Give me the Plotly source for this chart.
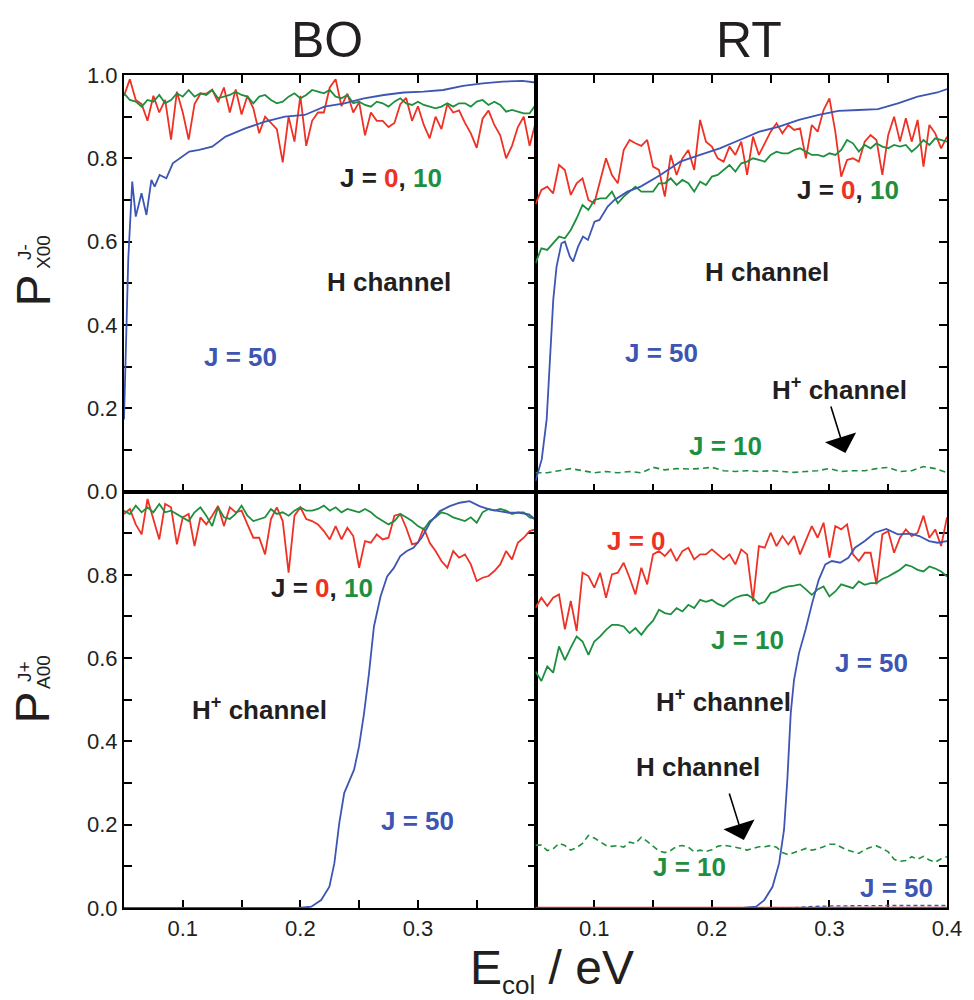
import plotly.graph_objects as go

# ---------------- data ----------------
E_GRID = [0.050, 0.055, 0.060, 0.065, 0.070, 0.075, 0.080, 0.085, 0.090, 0.095,
          0.100, 0.105, 0.110, 0.115, 0.120, 0.125, 0.130, 0.135, 0.140, 0.145,
          0.150, 0.155, 0.160, 0.165, 0.170, 0.175, 0.180, 0.185, 0.190, 0.195,
          0.200, 0.205, 0.210, 0.215, 0.220, 0.225, 0.230, 0.235, 0.240, 0.245,
          0.250, 0.255, 0.260, 0.265, 0.270, 0.275, 0.280, 0.285, 0.290, 0.295,
          0.300, 0.305, 0.310, 0.315, 0.320, 0.325, 0.330, 0.335, 0.340, 0.345,
          0.350, 0.355, 0.360, 0.365, 0.370, 0.375, 0.380, 0.385, 0.390, 0.395,
          0.400]
E_GRID10 = [0.05, 0.06, 0.07, 0.08, 0.09, 0.10, 0.11, 0.12, 0.13, 0.14, 0.15, 0.16,
            0.17, 0.18, 0.19, 0.20, 0.21, 0.22, 0.23, 0.24, 0.25, 0.26, 0.27, 0.28,
            0.29, 0.30, 0.31, 0.32, 0.33, 0.34, 0.35, 0.36, 0.37, 0.38, 0.39, 0.40]
E_ENDS = [0.05, 0.40]

# BO, H channel (top-left)
bo_h_j0 = [0.95, 0.99, 0.94, 0.93, 0.89, 0.95, 0.91, 0.94, 0.845, 0.96,
           0.91, 0.845, 0.93, 0.955, 0.955, 0.965, 0.935, 0.97, 0.91, 0.965,
           0.905, 0.95, 0.92, 0.86, 0.90, 0.885, 0.87, 0.79, 0.90, 0.84,
           0.95, 0.83, 0.89, 0.91, 0.91, 0.97, 0.99, 0.925, 0.955, 0.91,
           0.935, 0.855, 0.91, 0.89, 0.89, 0.875, 0.885, 0.93, 0.945, 0.89,
           0.925, 0.88, 0.848, 0.90, 0.87, 0.93, 0.91, 0.915, 0.885, 0.86,
           0.825, 0.895, 0.915, 0.88, 0.855, 0.80, 0.83, 0.875, 0.90, 0.83,
           0.885]
bo_h_j10 = [0.956, 0.94, 0.936, 0.924, 0.94, 0.936, 0.952, 0.932, 0.94, 0.956,
            0.948, 0.964, 0.948, 0.956, 0.952, 0.964, 0.944, 0.948, 0.952, 0.96,
            0.952, 0.948, 0.932, 0.948, 0.952, 0.94, 0.932, 0.936, 0.948, 0.956,
            0.944, 0.952, 0.964, 0.96, 0.956, 0.964, 0.948, 0.944, 0.952, 0.932,
            0.936, 0.928, 0.924, 0.936, 0.932, 0.924, 0.936, 0.944, 0.932, 0.928,
            0.936, 0.928, 0.924, 0.92, 0.924, 0.932, 0.924, 0.932, 0.932, 0.924,
            0.936, 0.94, 0.928, 0.936, 0.928, 0.912, 0.916, 0.912, 0.908, 0.908,
            0.928]
bo_h_j50_e = [0.05, 0.0536, 0.057, 0.060, 0.0649, 0.0691, 0.0733, 0.0761, 0.0803, 0.086,
              0.0915, 0.0971, 0.1055, 0.1139, 0.125, 0.1364, 0.1532, 0.170, 0.1869, 0.2037,
              0.2205, 0.2374, 0.2542, 0.271, 0.2879, 0.3047, 0.3215, 0.3383, 0.3552, 0.372,
              0.3888, 0.40]
bo_h_j50 = [0.173, 0.556, 0.744, 0.66, 0.716, 0.664, 0.748, 0.732, 0.76, 0.752,
            0.788, 0.80, 0.816, 0.82, 0.828, 0.852, 0.872, 0.888, 0.90, 0.904,
            0.924, 0.932, 0.944, 0.952, 0.958, 0.96, 0.964, 0.974, 0.98, 0.984,
            0.986, 0.982]

# RT, H channel (top-right)
rt_h_j0 = [0.69, 0.724, 0.732, 0.716, 0.784, 0.772, 0.712, 0.74, 0.752, 0.70,
           0.692, 0.744, 0.80, 0.76, 0.74, 0.82, 0.844, 0.836, 0.83, 0.844,
           0.78, 0.772, 0.708, 0.808, 0.76, 0.80, 0.82, 0.772, 0.892, 0.84,
           0.828, 0.80, 0.792, 0.828, 0.808, 0.84, 0.76, 0.852, 0.808, 0.836,
           0.864, 0.884, 0.86, 0.88, 0.868, 0.872, 0.80, 0.88, 0.864, 0.916,
           0.944, 0.864, 0.756, 0.796, 0.80, 0.792, 0.84, 0.856, 0.844, 0.76,
           0.856, 0.90, 0.84, 0.896, 0.84, 0.892, 0.78, 0.88, 0.86, 0.824,
           0.852]
rt_h_j10 = [0.548, 0.584, 0.58, 0.596, 0.612, 0.608, 0.628, 0.656, 0.688, 0.676,
            0.70, 0.704, 0.704, 0.72, 0.692, 0.708, 0.72, 0.732, 0.72, 0.72,
            0.72, 0.74, 0.74, 0.752, 0.736, 0.748, 0.74, 0.72, 0.744, 0.736,
            0.756, 0.76, 0.772, 0.784, 0.768, 0.788, 0.792, 0.80, 0.796, 0.792,
            0.808, 0.816, 0.812, 0.812, 0.82, 0.824, 0.816, 0.808, 0.808, 0.804,
            0.812, 0.808, 0.82, 0.844, 0.836, 0.816, 0.832, 0.824, 0.836, 0.828,
            0.824, 0.832, 0.828, 0.832, 0.816, 0.828, 0.844, 0.832, 0.848, 0.844,
            0.84]
rt_h_j50_e = [0.05, 0.0553, 0.0595, 0.0624, 0.0651, 0.0679, 0.0721, 0.075, 0.0792, 0.082,
              0.0862, 0.0904, 0.0946, 0.1002, 0.1044, 0.1114, 0.1171, 0.1282, 0.1394, 0.1562,
              0.1731, 0.1899, 0.2067, 0.2236, 0.2404, 0.2572, 0.274, 0.2909, 0.3077, 0.3245,
              0.3413, 0.3582, 0.375, 0.3918, 0.40]
rt_h_j50 = [0.025, 0.077, 0.173, 0.317, 0.46, 0.54, 0.596, 0.60, 0.564, 0.552,
            0.588, 0.612, 0.604, 0.648, 0.652, 0.684, 0.70, 0.72, 0.732, 0.76,
            0.792, 0.808, 0.824, 0.844, 0.864, 0.876, 0.892, 0.904, 0.914, 0.916,
            0.918, 0.932, 0.948, 0.958, 0.966]
rt_hplus_j10_in_h = [0.045, 0.045, 0.05, 0.055, 0.05, 0.045, 0.048, 0.045, 0.048, 0.045,
                     0.058, 0.052, 0.055, 0.054, 0.055, 0.058, 0.05, 0.048, 0.05, 0.048,
                     0.05, 0.048, 0.046, 0.048, 0.05, 0.055, 0.048, 0.05, 0.05, 0.055,
                     0.058, 0.048, 0.05, 0.06, 0.055, 0.045]
rt_hplus_j0_in_h = [0.0, 0.0]
rt_hplus_j50_in_h = [0.0, 0.0]

# BO, H+ channel (bottom-left)
bo_hp_j0 = [0.946, 0.958, 0.921, 0.897, 0.982, 0.934, 0.885, 0.97, 0.962, 0.873,
            0.938, 0.946, 0.869, 0.938, 0.921, 0.942, 0.965, 0.917, 0.962, 0.95,
            0.954, 0.921, 0.889, 0.889, 0.849, 0.934, 0.962, 0.929, 0.805, 0.942,
            0.962, 0.934, 0.929, 0.921, 0.905, 0.885, 0.917, 0.885, 0.913, 0.893,
            0.817, 0.881, 0.877, 0.897, 0.885, 0.889, 0.942, 0.946, 0.913, 0.873,
            0.877, 0.913, 0.877, 0.857, 0.833, 0.817, 0.857, 0.841, 0.849, 0.825,
            0.785, 0.793, 0.797, 0.809, 0.825, 0.857, 0.837, 0.877, 0.889, 0.905,
            0.909]
bo_hp_j10 = [0.954, 0.946, 0.966, 0.95, 0.962, 0.95, 0.97, 0.95, 0.954, 0.946,
             0.938, 0.929, 0.95, 0.962, 0.942, 0.917, 0.962, 0.938, 0.934, 0.946,
             0.966, 0.942, 0.929, 0.934, 0.938, 0.958, 0.946, 0.95, 0.942, 0.954,
             0.962, 0.954, 0.954, 0.958, 0.966, 0.954, 0.962, 0.95, 0.958, 0.954,
             0.95, 0.958, 0.95, 0.938, 0.929, 0.921, 0.929, 0.946, 0.938, 0.929,
             0.917, 0.909, 0.929, 0.938, 0.95, 0.946, 0.938, 0.934, 0.929, 0.938,
             0.925, 0.95, 0.958, 0.954, 0.958, 0.954, 0.946, 0.95, 0.95, 0.938,
             0.934]
bo_hp_j50_e = [0.05, 0.198, 0.2093, 0.2177, 0.2247, 0.2289, 0.2331, 0.2373, 0.2415, 0.2457,
               0.2499, 0.2542, 0.2584, 0.2626, 0.2682, 0.2738, 0.2794, 0.285, 0.2906, 0.2962,
               0.3032, 0.3102, 0.3187, 0.3271, 0.3355, 0.3439, 0.3523, 0.3607, 0.3691, 0.3775,
               0.3859, 0.3944, 0.40]
bo_hp_j50 = [0.0, 0.0, 0.003, 0.019, 0.051, 0.107, 0.204, 0.276, 0.304, 0.332,
             0.388, 0.468, 0.564, 0.676, 0.748, 0.796, 0.816, 0.845, 0.857, 0.865,
             0.889, 0.925, 0.953, 0.965, 0.973, 0.977, 0.965, 0.957, 0.953, 0.949,
             0.949, 0.945, 0.933]

# RT, H+ channel (bottom-right)
rt_hp_j0 = [0.721, 0.745, 0.725, 0.745, 0.753, 0.669, 0.737, 0.665, 0.805, 0.797,
            0.769, 0.805, 0.745, 0.801, 0.805, 0.829, 0.793, 0.753, 0.817, 0.777,
            0.849, 0.857, 0.845, 0.861, 0.833, 0.857, 0.865, 0.837, 0.849, 0.849,
            0.861, 0.849, 0.837, 0.849, 0.825, 0.861, 0.849, 0.737, 0.869, 0.865,
            0.901, 0.869, 0.893, 0.873, 0.893, 0.849, 0.881, 0.917, 0.889, 0.925,
            0.841, 0.917, 0.909, 0.921, 0.849, 0.833, 0.853, 0.853, 0.777, 0.897,
            0.905, 0.853, 0.889, 0.909, 0.893, 0.901, 0.942, 0.889, 0.909, 0.869,
            0.938]
rt_hp_j10 = [0.568, 0.545, 0.58, 0.565, 0.628, 0.595, 0.625, 0.652, 0.64, 0.608,
             0.64, 0.652, 0.668, 0.68, 0.68, 0.676, 0.66, 0.672, 0.656, 0.675,
             0.69, 0.716, 0.708, 0.705, 0.72, 0.712, 0.728, 0.72, 0.74, 0.735,
             0.74, 0.73, 0.724, 0.736, 0.745, 0.75, 0.752, 0.744, 0.73, 0.735,
             0.756, 0.76, 0.768, 0.772, 0.774, 0.777, 0.765, 0.752, 0.765, 0.772,
             0.748, 0.76, 0.777, 0.772, 0.768, 0.784, 0.776, 0.78, 0.78, 0.79,
             0.796, 0.804, 0.812, 0.824, 0.82, 0.812, 0.808, 0.82, 0.815, 0.808,
             0.796]
rt_hp_j50_e = [0.05, 0.2264, 0.2376, 0.2446, 0.2516, 0.2572, 0.2614, 0.2642, 0.2671, 0.2699,
               0.2741, 0.2797, 0.2853, 0.2909, 0.2965, 0.3021, 0.3091, 0.3161, 0.3217, 0.3301,
               0.3386, 0.3484, 0.3582, 0.3694, 0.3764, 0.3848, 0.3918, 0.40]
rt_hp_j50 = [0.0, 0.0, 0.003, 0.019, 0.051, 0.107, 0.188, 0.308, 0.468, 0.548,
             0.612, 0.668, 0.732, 0.788, 0.825, 0.833, 0.829, 0.841, 0.865, 0.881,
             0.901, 0.91, 0.897, 0.899, 0.893, 0.881, 0.877, 0.881]
rt_h_j10_in_hp = [0.151, 0.151, 0.138, 0.142, 0.155, 0.15, 0.139, 0.145, 0.155, 0.174,
                  0.168, 0.158, 0.15, 0.148, 0.15, 0.146, 0.158, 0.155, 0.17, 0.16,
                  0.149, 0.137, 0.133, 0.138, 0.148, 0.15, 0.146, 0.135, 0.139, 0.136,
                  0.14, 0.148, 0.151, 0.149, 0.146, 0.143, 0.139, 0.143, 0.147, 0.147,
                  0.15, 0.146, 0.133, 0.128, 0.133, 0.139, 0.143, 0.139, 0.142, 0.147,
                  0.153, 0.153, 0.145, 0.139, 0.135, 0.131, 0.14, 0.146, 0.149, 0.143,
                  0.135, 0.117, 0.112, 0.114, 0.123, 0.117, 0.124, 0.115, 0.11, 0.118,
                  0.123]
rt_h_j50_in_hp_e = [0.05, 0.265, 0.28, 0.30, 0.35, 0.40]
rt_h_j50_in_hp = [0.0, 0.0, 0.003, 0.005, 0.006, 0.006]
rt_h_j0_in_hp = [0.0, 0.0]

X_TICKS = [0.05, 0.10, 0.15, 0.20, 0.25, 0.30, 0.35, 0.40]
X_LABELS_LEFT = ["", "0.1", "", "0.2", "", "0.3", "", ""]
X_LABELS_RIGHT = ["", "0.1", "", "0.2", "", "0.3", "", "0.4"]
Y_TICKS = [0.0, 0.1, 0.2, 0.3, 0.4, 0.5, 0.6, 0.7, 0.8, 0.9, 1.0]
Y_LABELS_TOP = ["0.0", "", "0.2", "", "0.4", "", "0.6", "", "0.8", "", "1.0"]
Y_LABELS_BOT = ["0.0", "", "0.2", "", "0.4", "", "0.6", "", "0.8", "", ""]

# ---------------- styles ----------------
RED = "#ee3124"
GREEN = "#1e8f3e"
BLUE = "#3d55b3"
INK = "#231f20"
LW = 1.8
DASH = "6px,4px"

fig = go.Figure()


def line(x, y, color, ax, dash="solid", width=LW):
    fig.add_trace(go.Scatter(x=x, y=y, mode="lines", xaxis=ax[0], yaxis=ax[1],
                             line=dict(color=color, width=width, dash=dash),
                             showlegend=False, hoverinfo="skip"))


TL, TR, BL, BR = ("x", "y"), ("x2", "y2"), ("x3", "y3"), ("x4", "y4")

# top-left
line(E_GRID, bo_h_j0, RED, TL)
line(E_GRID, bo_h_j10, GREEN, TL)
line(bo_h_j50_e, bo_h_j50, BLUE, TL)
# top-right
line(E_ENDS, rt_hplus_j0_in_h, RED, TR, width=2.5)
line(E_ENDS, rt_hplus_j50_in_h, BLUE, TR, dash=DASH, width=1.2)
line(E_GRID10, rt_hplus_j10_in_h, GREEN, TR, dash=DASH, width=1.6)
line(E_GRID, rt_h_j0, RED, TR)
line(E_GRID, rt_h_j10, GREEN, TR)
line(rt_h_j50_e, rt_h_j50, BLUE, TR)
# bottom-left
line(E_GRID, bo_hp_j0, RED, BL)
line(E_GRID, bo_hp_j10, GREEN, BL)
line(bo_hp_j50_e, bo_hp_j50, BLUE, BL)
# bottom-right
line(E_ENDS, rt_h_j0_in_hp, RED, BR, width=2.5)
line(rt_h_j50_in_hp_e, rt_h_j50_in_hp, BLUE, BR, dash="4px,3px", width=1.3)
line(E_GRID, rt_h_j10_in_hp, GREEN, BR, dash=DASH, width=1.6)
line(E_GRID, rt_hp_j0, RED, BR)
line(E_GRID, rt_hp_j10, GREEN, BR)
line(rt_hp_j50_e, rt_hp_j50, BLUE, BR)

TICKFONT = dict(family="Liberation Sans, Arial, sans-serif", size=22, color=INK)
common = dict(showline=True, linecolor="black", linewidth=2, ticks="inside",
              ticklen=8, tickwidth=1.5, tickcolor="black", showgrid=False,
              zeroline=False, tickfont=TICKFONT, layer="below traces")


def xax(domain, anchor, labels, mirror, show):
    return dict(common, domain=domain, anchor=anchor, range=[0.05, 0.40],
                tickmode="array", tickvals=X_TICKS, ticktext=labels, mirror=mirror,
                showticklabels=show)


def yax(domain, anchor, labels, side, mirror, show):
    return dict(common, domain=domain, anchor=anchor, range=[0, 1.0],
                tickmode="array", tickvals=Y_TICKS, ticktext=labels, side=side,
                mirror=mirror, showticklabels=show)


fig.update_layout(
    width=974, height=1000,
    margin=dict(l=124, r=16, t=75, b=92),
    paper_bgcolor="white", plot_bgcolor="white",
    showlegend=False,
    xaxis=xax([0, 0.5], "y", X_LABELS_LEFT, "ticks", False),
    yaxis=yax([0.5, 1], "x", Y_LABELS_TOP, "left", "ticks", True),
    xaxis2=xax([0.5, 1], "y2", X_LABELS_RIGHT, "ticks", False),
    yaxis2=yax([0.5, 1], "x2", Y_LABELS_TOP, "right", True, False),
    xaxis3=xax([0, 0.5], "y3", X_LABELS_LEFT, True, True),
    yaxis3=yax([0, 0.5], "x3", Y_LABELS_BOT, "left", "ticks", True),
    xaxis4=xax([0.5, 1], "y4", X_LABELS_RIGHT, True, True),
    yaxis4=yax([0, 0.5], "x4", Y_LABELS_BOT, "right", True, False),
)

LBL = "Liberation Sans, Arial, sans-serif"
NARROW = "Liberation Sans Narrow, Liberation Sans, Arial, sans-serif"


def note(text, x, y, ax, color=INK, size=26):
    fig.add_annotation(text="<b>" + text + "</b>", x=x, y=y, xref=ax[0], yref=ax[1],
                       showarrow=False, xanchor="center", yanchor="middle",
                       font=dict(family=LBL, size=size, color=color))


J_MIX = ("J = <span style='color:%s'>0</span>, <span style='color:%s'>10</span>"
         % (RED, GREEN))

# top-left
note(J_MIX, 0.2775, 0.753, TL)
note("H channel", 0.275, 0.503, TL)
note("J = 50", 0.1487, 0.323, TL, BLUE)
# top-right
note(J_MIX, 0.3157, 0.724, TR)
note("H channel", 0.2473, 0.527, TR)
note("J = 50", 0.1575, 0.3325, TR, BLUE)
note("H<sup>+</sup> channel", 0.3086, 0.2485, TR)
note("J = 10", 0.212, 0.109, TR, GREEN)
# bottom-left
note(J_MIX, 0.2188, 0.768, BL)
note("H<sup>+</sup> channel", 0.165, 0.480, BL)
note("J = 50", 0.2994, 0.209, BL, BLUE)
# bottom-right
note("J = 0", 0.1356, 0.881, BR, RED)
note("J = 10", 0.2305, 0.6435, BR, GREEN)
note("J = 50", 0.3355, 0.588, BR, BLUE)
note("H<sup>+</sup> channel", 0.2095, 0.4994, BR)
note("H channel", 0.1885, 0.3385, BR)
note("J = 10", 0.181, 0.0984, BR, GREEN)
note("J = 50", 0.3573, 0.048, BR, BLUE)

# arrows
for (hx, hy, ax) in [(0.3136, 0.0924, TR), (0.2272, 0.1633, BR)]:
    fig.add_annotation(x=hx, y=hy, xref=ax[0], yref=ax[1], ax=-15, ay=-48,
                       showarrow=True, arrowhead=1, arrowsize=3.4, arrowwidth=1.6,
                       arrowcolor="black", text="")

# column titles
for (t, px) in [("BO", 0.247), ("RT", 0.759)]:
    fig.add_annotation(text=t, x=px, y=1.042, xref="paper", yref="paper",
                       showarrow=False, xanchor="center", yanchor="middle",
                       font=dict(family=NARROW, size=50, color=INK))

# x title
fig.add_annotation(text="E<sub><span style='font-size:26px'>col</span></sub> / eV",
                   x=0.52, y=-0.075, xref="paper", yref="paper", showarrow=False,
                   xanchor="center", yanchor="middle",
                   font=dict(family=NARROW, size=48, color=INK))

# y titles: P with stacked super/subscripts
for (pp, ps, sup, sub) in [(0.742, 0.7875, "J-", "X00"), (0.2413, 0.2833, "J+", "A00")]:
    fig.add_annotation(text="P", x=-0.110, y=pp, xref="paper", yref="paper",
                       showarrow=False, textangle=-90, xanchor="center",
                       yanchor="middle", font=dict(family=LBL, size=48, color=INK))
    fig.add_annotation(text=sup, x=-0.1215, y=ps, xref="paper", yref="paper",
                       showarrow=False, textangle=-90, xanchor="center",
                       yanchor="middle", font=dict(family=LBL, size=19, color=INK))
    fig.add_annotation(text=sub, x=-0.0985, y=ps, xref="paper", yref="paper",
                       showarrow=False, textangle=-90, xanchor="center",
                       yanchor="middle", font=dict(family=LBL, size=19, color=INK))

fig.write_html("out.html")
